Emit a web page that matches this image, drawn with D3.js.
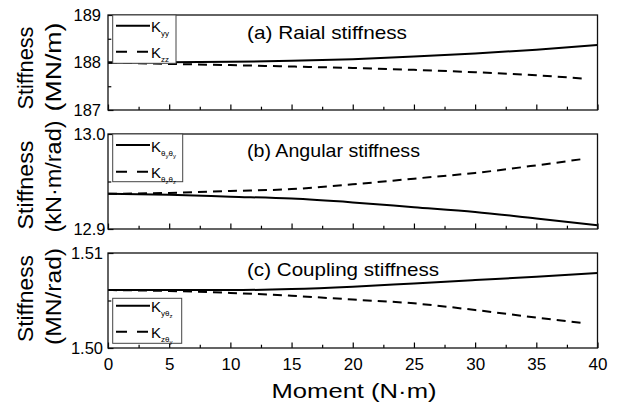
<!DOCTYPE html>
<html>
<head>
<meta charset="utf-8">
<script src="https://cdn.jsdelivr.net/npm/d3@7"></script>
<style>
  body { margin: 0; background: #fff; }
  text { font-family: "Liberation Sans", Arial, sans-serif; fill: #000; }
</style>
</head>
<body>
<svg id="chart" width="618" height="406"></svg>
<script>
// ---- data ----
const momentFull = [0, 5, 10, 15, 20, 25, 30, 35, 40];
const momentShort = [0, 5, 10, 15, 20, 25, 30, 35, 39];

const radialKyy = [188.0, 188.005, 188.015, 188.035, 188.07, 188.125, 188.19, 188.27, 188.37];
const radialKzz = [188.0, 187.97, 187.945, 187.915, 187.885, 187.845, 187.795, 187.73, 187.66];

const angularKty = [12.937, 12.936, 12.934, 12.932, 12.928, 12.923, 12.918, 12.911, 12.904];
const angularKtz = [12.937, 12.938, 12.940, 12.942, 12.947, 12.953, 12.959, 12.967, 12.974];

const couplingKytz = [1.5061, 1.5061, 1.5061, 1.5062, 1.50645, 1.5068, 1.50715, 1.5075, 1.5079];
const couplingKzty = [1.5061, 1.5060, 1.5058, 1.5055, 1.5051, 1.5047, 1.5040, 1.5032, 1.5026];

const xTicks = [0, 5, 10, 15, 20, 25, 30, 35, 40];
const xMinorTicks = [2.5, 7.5, 12.5, 17.5, 22.5, 27.5, 32.5, 37.5];

const radialDomain = [187, 189];
const radialTicks = [187, 188, 189];
const radialTickLabels = ["187", "188", "189"];
const angularDomain = [12.9, 13.0];
const angularTicks = [12.9, 13.0];
const angularTickLabels = ["12.9", "13.0"];
const couplingDomain = [1.50, 1.51];
const couplingTicks = [1.50, 1.51];
const couplingTickLabels = ["1.50", "1.51"];

const panelTitles = ["(a) Raial stiffness", "(b) Angular stiffness", "(c) Coupling stiffness"];
const quantityLabel = "Stiffness";
const unitLabels = ["(MN/m)", "(kN\u00b7m/rad)", "(MN/rad)"];
const xAxisLabel = "Moment (N\u00b7m)";

// legend names as [text, subscript level] runs
const radialNames = [[["K", 0], ["yy", 1]], [["K", 0], ["zz", 1]]];
const angularNames = [
  [["K", 0], ["\u03b8", 1], ["y", 2], ["\u03b8", 1], ["y", 2]],
  [["K", 0], ["\u03b8", 1], ["z", 2], ["\u03b8", 1], ["z", 2]]
];
const couplingNames = [
  [["K", 0], ["y", 1], ["\u03b8", 1], ["z", 2]],
  [["K", 0], ["z", 1], ["\u03b8", 1], ["y", 2]]
];

// ---- layout ----
const plotLeft = 108, plotRight = 597.5;
const panels = [
  { top: 15, bottom: 110, domain: radialDomain, ticks: radialTicks, labels: radialTickLabels,
    series: [[momentFull, radialKyy], [momentShort, radialKzz]], names: radialNames,
    title: panelTitles[0], titleY: 39, titleLen: 160,
    unit: unitLabels[0], stiffMid: 68, stiffLen: 83, unitMid: 67, unitLen: 89,
    tickPad: 7, legend: { x: 112.7, y: 15, w: 63.3, h: 48.3, rows: [25.7, 51.7] }, xLabels: false },
  { top: 134, bottom: 229, domain: angularDomain, ticks: angularTicks, labels: angularTickLabels,
    series: [[momentFull, angularKty], [momentShort, angularKtz]], names: angularNames,
    title: panelTitles[1], titleY: 157, titleLen: 173,
    unit: unitLabels[1], stiffMid: 185, stiffLen: 89, unitMid: 176.5, unitLen: 112,
    tickPad: 2.5, legend: { x: 112.7, y: 134, w: 70, h: 47.7, rows: [145, 171.7] }, xLabels: false },
  { top: 253, bottom: 348, domain: couplingDomain, ticks: couplingTicks, labels: couplingTickLabels,
    series: [[momentFull, couplingKytz], [momentShort, couplingKzty]], names: couplingNames,
    title: panelTitles[2], titleY: 276, titleLen: 192,
    unit: unitLabels[2], stiffMid: 298.5, stiffLen: 87, unitMid: 296.5, unitLen: 97,
    tickPad: 5, legend: { x: 112.7, y: 298.3, w: 69, h: 45, rows: [305.7, 331.7] }, xLabels: true }
];

const svg = d3.select("#chart");
svg.append("rect").attr("width", 618).attr("height", 406).attr("fill", "#fff");

const x = d3.scaleLinear().domain([0, 40]).range([plotLeft, plotRight]);
const dashes = [null, "9,6"];
const legendDashes = [null, "11,10"];

function drawRuns(sel, runs) {
  const sizes = [15, 8, 6];
  const offs = [0, 4, 6];
  let cur = 0;
  runs.forEach(([txt, lvl]) => {
    sel.append("tspan")
      .attr("font-size", sizes[lvl])
      .attr("dy", offs[lvl] - cur)
      .text(txt);
    cur = offs[lvl];
  });
}

panels.forEach(p => {
  const y = d3.scaleLinear().domain(p.domain).range([p.bottom, p.top]);
  const g = svg.append("g");

  // data lines
  const line = d3.line().x(d => x(d[0])).y(d => y(d[1])).curve(d3.curveMonotoneX);
  p.series.forEach(([xs, ys], i) => {
    g.append("path")
      .datum(xs.map((v, k) => [v, ys[k]]))
      .attr("d", line)
      .attr("fill", "none")
      .attr("stroke", "#000")
      .attr("stroke-width", 2)
      .attr("stroke-dasharray", dashes[i]);
  });

  // bottom axis: inward ticks
  const bottomMajor = d3.axisBottom(x).tickValues(xTicks).tickSize(-5.5).tickPadding(10)
    .tickFormat(p.xLabels ? d3.format("d") : () => "");
  const bAx = g.append("g").attr("transform", `translate(0,${p.bottom})`).call(bottomMajor);
  const bMin = g.append("g").attr("transform", `translate(0,${p.bottom})`)
    .call(d3.axisBottom(x).tickValues(xMinorTicks).tickSize(-3.3).tickFormat(() => ""));

  // left axis: inward ticks
  const mids = d3.pairs(p.ticks).map(([a, b]) => (a + b) / 2);
  const lAx = g.append("g").attr("transform", `translate(${plotLeft},0)`)
    .call(d3.axisLeft(y).tickValues(p.ticks).tickSize(-5.5).tickPadding(p.tickPad)
      .tickFormat((d, i) => p.labels[i]));
  const lMin = g.append("g").attr("transform", `translate(${plotLeft},0)`)
    .call(d3.axisLeft(y).tickValues(mids).tickSize(-3.3).tickFormat(() => ""));

  [bAx, bMin, lAx, lMin].forEach(a => {
    a.select(".domain").remove();
    a.selectAll("line").attr("stroke", "#000").attr("stroke-width", 1.2);
  });
  bAx.selectAll("text").attr("font-size", 17).attr("font-family", "Liberation Sans, Arial, sans-serif").attr("fill", "#000");
  lAx.selectAll("text").attr("font-size", 16.5).attr("font-family", "Liberation Sans, Arial, sans-serif").attr("fill", "#000");

  // frame
  g.append("rect")
    .attr("x", plotLeft).attr("y", p.top)
    .attr("width", plotRight - plotLeft).attr("height", p.bottom - p.top)
    .attr("fill", "none").attr("stroke", "#111").attr("stroke-width", 1.3);

  // legend
  const L = p.legend;
  g.append("rect").attr("x", L.x).attr("y", L.y).attr("width", L.w).attr("height", L.h)
    .attr("fill", "#fff").attr("stroke", "#444").attr("stroke-width", 1);
  p.names.forEach((runs, i) => {
    const ry = L.rows[i];
    g.append("line").attr("x1", 116).attr("x2", 150).attr("y1", ry).attr("y2", ry)
      .attr("stroke", "#000").attr("stroke-width", 2).attr("stroke-dasharray", legendDashes[i]);
    const t = g.append("text").attr("x", 151).attr("y", ry + 6.5);
    drawRuns(t, runs);
  });

  // panel title
  g.append("text").attr("x", 247).attr("y", p.titleY)
    .attr("font-size", 19).attr("textLength", p.titleLen).attr("lengthAdjust", "spacingAndGlyphs")
    .text(p.title);

  // vertical labels
  g.append("text").attr("transform", `translate(33,${p.stiffMid}) rotate(-90)`)
    .attr("text-anchor", "middle").attr("font-size", 22)
    .attr("textLength", p.stiffLen).attr("lengthAdjust", "spacingAndGlyphs")
    .text(quantityLabel);
  g.append("text").attr("transform", `translate(61,${p.unitMid}) rotate(-90)`)
    .attr("text-anchor", "middle").attr("font-size", 22)
    .attr("textLength", p.unitLen).attr("lengthAdjust", "spacingAndGlyphs")
    .text(p.unit);
});

// x axis title
svg.append("text").attr("x", 354).attr("y", 398).attr("text-anchor", "middle")
  .attr("font-size", 21).attr("textLength", 165).attr("lengthAdjust", "spacingAndGlyphs")
  .text(xAxisLabel);
</script>
</body>
</html>
